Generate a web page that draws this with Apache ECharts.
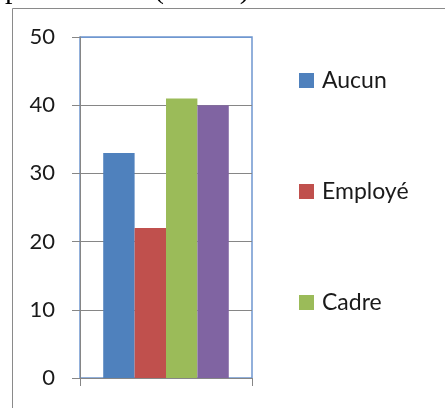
<!DOCTYPE html>
<html>
<head>
<meta charset="utf-8">
<script src="https://cdn.jsdelivr.net/npm/echarts@6/dist/echarts.min.js"></script>
<style>
  html, body { margin: 0; padding: 0; background: #fff; }
  #chart { width: 445px; height: 408px; }
</style>
</head>
<body>
<div id="chart"></div>
<script>
// Statut professionnel : pourcentages par groupe
const categories = [''];
const seriesNames = ['Aucun', 'Employé', 'Cadre', 'Autre'];
const seriesValues = [[33], [22], [41], [40]];
const legendNames = ['Aucun', 'Employé', 'Cadre'];
const yTicks = { min: 0, max: 50, interval: 10 };
const headerText = 'précédentes (n=110)';

const colors = ['#4F81BD', '#C0504D', '#9BBB59', '#8064A2'];
const gridColor = '#868686';
const frameBlue = '#6F97D0';
const fontFamily = 'Lato, "Open Sans", sans-serif';

const chart = echarts.init(document.getElementById('chart'), null, { renderer: 'canvas' });

chart.setOption({
  animation: false,
  backgroundColor: '#ffffff',
  color: colors,
  grid: {
    left: 80, right: 193, top: 37, bottom: 30,
    show: true, borderColor: frameBlue, borderWidth: 1.5, backgroundColor: 'transparent'
  },
  legend: {
    data: legendNames,
    orient: 'vertical',
    left: 299, top: 69,
    padding: 0,
    icon: 'rect',
    itemWidth: 15, itemHeight: 15,
    itemGap: 88,
    textStyle: { fontFamily, fontSize: 23, color: '#1a1a1a', lineHeight: 22, padding: [0, 0, 0, 3] }
  },
  xAxis: {
    type: 'category',
    data: categories,
    axisLine: { show: true, lineStyle: { color: gridColor, width: 1 } },
    axisTick: { show: true, length: 8, lineStyle: { color: gridColor } },
    axisLabel: { show: false },
    splitLine: { show: false }
  },
  yAxis: {
    type: 'value',
    min: yTicks.min, max: yTicks.max, interval: yTicks.interval,
    axisLine: { show: true, lineStyle: { color: gridColor, width: 1 } },
    axisTick: { show: true, length: 8, lineStyle: { color: gridColor } },
    axisLabel: { fontFamily, fontSize: 22, color: '#1a1a1a', margin: 25 },
    splitLine: {
      show: true,
      lineStyle: { color: [gridColor, gridColor, gridColor, gridColor, gridColor, frameBlue], width: 1 }
    }
  },
  series: seriesNames.map((name, i) => ({
    name,
    type: 'bar',
    data: seriesValues[i],
    barGap: '0%',
    barCategoryGap: '27%',
    itemStyle: { color: colors[i] }
  })),
  graphic: [
    {
      type: 'rect',
      silent: true,
      shape: { x: 12.5, y: 8.5, width: 600, height: 600 },
      style: { fill: 'none', stroke: '#8a8a8a', lineWidth: 1 }
    },
    {
      type: 'text',
      silent: true,
      x: 5, y: -25,
      style: { text: headerText, font: '30px "Liberation Serif", "Times New Roman", serif', fill: '#000' }
    }
  ]
});
</script>
</body>
</html>
